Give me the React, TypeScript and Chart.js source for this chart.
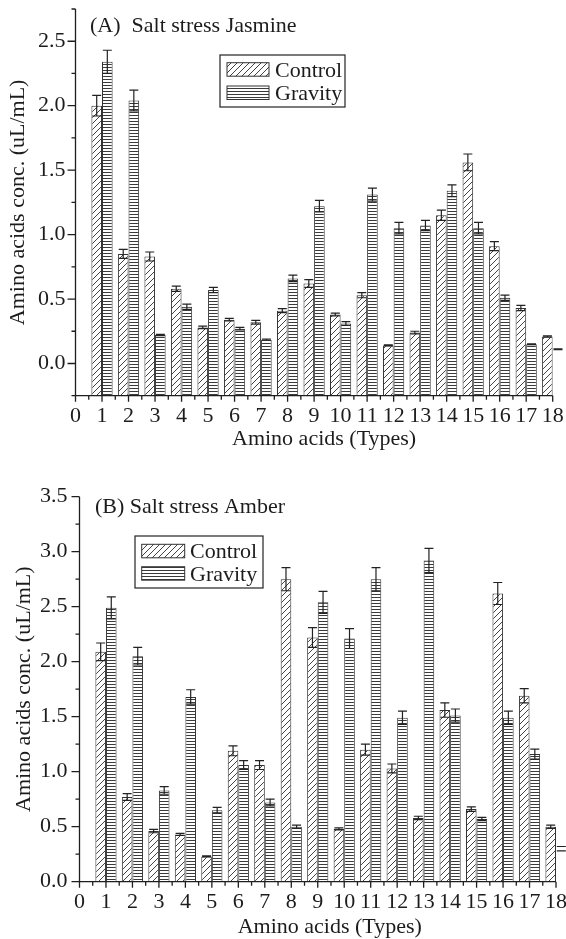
import React, { useEffect, useRef } from 'react';
import { Chart, registerables } from 'chart.js';

Chart.register(...registerables);

const FONT = "'Liberation Serif', 'Times New Roman', serif";
const INK = '#1c1c1c';

// ---- data ----
const aminoTypes = [1, 2, 3, 4, 5, 6, 7, 8, 9, 10, 11, 12, 13, 14, 15, 16, 17, 18];

const jasmineControl = [2.0, 0.85, 0.83, 0.58, 0.28, 0.34, 0.32, 0.41, 0.62, 0.38, 0.53, 0.14, 0.24, 1.15, 1.56, 0.91, 0.43, 0.21];
const jasmineControlErr = [0.08, 0.035, 0.035, 0.02, 0.01, 0.01, 0.015, 0.015, 0.03, 0.01, 0.02, 0.004, 0.01, 0.04, 0.065, 0.035, 0.02, 0.005];
const jasmineGravity = [2.34, 2.04, 0.22, 0.44, 0.57, 0.27, 0.185, 0.66, 1.22, 0.31, 1.31, 1.05, 1.07, 1.34, 1.05, 0.51, 0.15, 0.11];
const jasmineGravityErr = [0.09, 0.08, 0.005, 0.02, 0.02, 0.01, 0.005, 0.025, 0.045, 0.015, 0.05, 0.045, 0.04, 0.045, 0.045, 0.02, 0.003, 0.003];

const amberControl = [2.09, 0.77, 0.46, 0.43, 0.23, 1.19, 1.06, 2.75, 2.22, 0.48, 1.2, 1.03, 0.58, 1.56, 0.66, 2.62, 1.69, 0.5];
const amberControlErr = [0.08, 0.03, 0.015, 0.01, 0.005, 0.045, 0.04, 0.105, 0.09, 0.01, 0.05, 0.04, 0.015, 0.065, 0.02, 0.1, 0.065, 0.015];
const amberGravity = [2.49, 2.05, 0.83, 1.68, 0.65, 1.06, 0.72, 0.5, 2.54, 2.21, 2.75, 1.49, 2.92, 1.51, 0.57, 1.49, 1.16, 0.3];
const amberGravityErr = [0.1, 0.08, 0.035, 0.065, 0.025, 0.04, 0.03, 0.015, 0.1, 0.09, 0.105, 0.06, 0.11, 0.06, 0.015, 0.06, 0.045, 0.02];

const seriesLabels = ['Control', 'Gravity'];
const xAxisTitle = 'Amino acids (Types)';
const yAxisTitle = 'Amino acids conc. (uL/mL)';

function isMultiple(v: number, step: number) {
  return Math.abs(v / step - Math.round(v / step)) < 1e-6;
}

function makePatterns() {
  const d = document.createElement('canvas');
  d.width = 6;
  d.height = 6;
  const g = d.getContext('2d')!;
  g.fillStyle = '#ffffff';
  g.fillRect(0, 0, 6, 6);
  g.strokeStyle = '#2e2e2e';
  g.lineWidth = 0.9;
  g.beginPath();
  g.moveTo(0, 6);
  g.lineTo(6, 0);
  g.moveTo(-1, 1);
  g.lineTo(1, -1);
  g.moveTo(5, 7);
  g.lineTo(7, 5);
  g.stroke();

  const h = document.createElement('canvas');
  h.width = 4;
  h.height = 3;
  const k = h.getContext('2d')!;
  k.fillStyle = '#ffffff';
  k.fillRect(0, 0, 4, 3);
  k.fillStyle = '#3a3a3a';
  k.fillRect(0, 1, 4, 1);

  const ctx = document.createElement('canvas').getContext('2d')!;
  return {
    diag: ctx.createPattern(d, 'repeat')!,
    horiz: ctx.createPattern(h, 'repeat')!,
  };
}

const decorPlugin = {
  id: 'panelDecor',
  afterDatasetsDraw(chart: any, _args: any, opts: any) {
    const { ctx, chartArea: a, scales } = chart;
    const y = scales.y;
    ctx.save();
    ctx.strokeStyle = '#222';
    ctx.lineWidth = 1.2;
    chart.data.datasets.forEach((ds: any, di: number) => {
      const meta = chart.getDatasetMeta(di);
      meta.data.forEach((bar: any, i: number) => {
        const v = ds.data[i].y;
        const e = ds.errors[i];
        const cx = bar.x;
        const yt = y.getPixelForValue(v + e);
        const yb = y.getPixelForValue(v - e);
        const inside = cx < a.right;
        ctx.beginPath();
        if (inside) {
          ctx.moveTo(cx, yt);
          ctx.lineTo(cx, yb);
        }
        ctx.moveTo(cx - 4.5, yt);
        ctx.lineTo(cx + 4.5, yt);
        ctx.moveTo(cx - 4.5, yb);
        ctx.lineTo(cx + 4.5, yb);
        ctx.stroke();
      });
    });
    ctx.restore();
  },
  afterDraw(chart: any, _args: any, opts: any) {
    const { ctx, chartArea: a, scales } = chart;
    const x = scales.x;
    const y = scales.y;
    ctx.save();
    ctx.strokeStyle = '#1e1e1e';
    ctx.lineWidth = 1.3;
    ctx.beginPath();
    ctx.moveTo(a.left, a.top);
    ctx.lineTo(a.left, a.bottom);
    ctx.lineTo(a.right, a.bottom);
    y.ticks.forEach((t: any) => {
      const py = y.getPixelForValue(t.value);
      const len = isMultiple(t.value, 0.5) ? 8 : 4;
      ctx.moveTo(a.left, py);
      ctx.lineTo(a.left - len, py);
    });
    x.ticks.forEach((t: any) => {
      const px = x.getPixelForValue(t.value);
      const len = isMultiple(t.value, 1) ? 6 : 4;
      ctx.moveTo(px, a.bottom);
      ctx.lineTo(px, a.bottom + len);
    });
    ctx.stroke();

    ctx.fillStyle = INK;
    ctx.font = `22px ${FONT}`;

    // x axis title
    ctx.textAlign = 'center';
    ctx.textBaseline = 'middle';
    ctx.fillText(xAxisTitle, (a.left + a.right) / 2 + opts.xTitleShift, a.bottom + opts.xTitleDy);

    // panel title
    ctx.textBaseline = 'alphabetic';
    ctx.textAlign = 'left';
    ctx.fillText(opts.title, opts.titleX, opts.titleY);

    // legend
    const L = opts.legend;
    ctx.lineWidth = 1.2;
    ctx.strokeStyle = '#222';
    ctx.strokeRect(L.x, L.y, L.w, L.h);
    chart.data.datasets.forEach((ds: any, i: number) => {
      const top = L.rows[i];
      ctx.fillStyle = ds.backgroundColor;
      ctx.fillRect(L.swX, top, L.swW, L.swH);
      ctx.lineWidth = 1;
      ctx.strokeStyle = '#333';
      ctx.strokeRect(L.swX, top, L.swW, L.swH);
      ctx.fillStyle = INK;
      ctx.fillText(ds.label, L.textX, top + L.swH + 0.5);
    });
    ctx.restore();
  },
};

function buildChart(canvas: HTMLCanvasElement, p: any) {
  const pats = makePatterns();
  return new Chart(canvas, {
    type: 'bar',
    data: {
      datasets: [
        {
          label: seriesLabels[0],
          data: aminoTypes.map((t, i) => ({ x: t, y: p.control[i] })),
          errors: p.controlErr,
          backgroundColor: pats.diag,
          borderColor: '#333',
          borderWidth: 1,
          base: p.yMin,
        } as any,
        {
          label: seriesLabels[1],
          data: aminoTypes.map((t, i) => ({ x: t, y: p.gravity[i] })),
          errors: p.gravityErr,
          backgroundColor: pats.horiz,
          borderColor: '#333',
          borderWidth: 1,
          base: p.yMin,
        } as any,
      ],
    },
    options: {
      animation: false,
      responsive: false,
      devicePixelRatio: 1,
      events: [],
      layout: { autoPadding: false, padding: { left: 0, top: p.top, right: p.right, bottom: 0 } },
      datasets: { bar: { categoryPercentage: 1.6, barPercentage: 1 } },
      plugins: {
        legend: { display: false },
        tooltip: { enabled: false },
        panelDecor: {
          title: p.title,
          titleX: p.titleX,
          titleY: p.titleY,
          legend: p.legend,
          xTitleShift: p.xTitleShift,
          xTitleDy: p.xTitleDy,
        },
      } as any,
      scales: {
        x: {
          type: 'linear',
          min: 0,
          max: 18,
          offset: false,
          grid: { display: false, drawTicks: false },
          border: { display: false },
          ticks: {
            stepSize: 0.5,
            autoSkip: false,
            maxRotation: 0,
            minRotation: 0,
            padding: p.xTickPad,
            color: INK,
            font: { family: FONT, size: 22 },
            callback: (v: any) => (isMultiple(Number(v), 1) ? String(Math.round(Number(v))) : ''),
          },
          title: { display: false },
          afterFit: (s: any) => {
            s.height = p.xAxisH;
            s.paddingLeft = 0;
            s.paddingRight = 0;
          },
        },
        y: {
          type: 'linear',
          min: p.yMin,
          max: p.yMax,
          grid: { display: false, drawTicks: false },
          border: { display: false },
          ticks: {
            stepSize: 0.25,
            autoSkip: false,
            padding: p.yTickPad,
            color: INK,
            font: { family: FONT, size: 22 },
            callback: (v: any) => {
              const n = Number(v);
              return isMultiple(n, 0.5) && n > -1e-9 ? n.toFixed(1) : '';
            },
          },
          title: {
            display: true,
            text: yAxisTitle,
            color: INK,
            font: { family: FONT, size: 22, lineHeight: 1 },
            padding: { top: p.yTitlePad, bottom: 0 },
          },
          afterFit: (s: any) => {
            s.width = p.yAxisW;
            s.paddingTop = 0;
            s.paddingBottom = 0;
          },
        },
      },
    } as any,
    plugins: [decorPlugin],
  });
}

const panelA = {
  control: jasmineControl,
  controlErr: jasmineControlErr,
  gravity: jasmineGravity,
  gravityErr: jasmineGravityErr,
  yMin: -0.25,
  yMax: 2.75,
  top: 9,
  right: 13.3,
  yAxisW: 75.5,
  xAxisH: 74.3,
  xTickPad: 7,
  xTitleShift: 10,
  xTitleDy: 44,
  yTitlePad: 7.5,
  yTickPad: 10,
  title: '(A)  Salt stress Jasmine',
  titleX: 90,
  titleY: 31.7,
  legend: { x: 220, y: 55, w: 125, h: 52, swX: 227, swW: 42, swH: 13.5, rows: [62.7, 86], textX: 275 },
};

const panelB = {
  control: amberControl,
  controlErr: amberControlErr,
  gravity: amberGravity,
  gravityErr: amberGravityErr,
  yMin: 0,
  yMax: 3.5,
  top: 26.7,
  right: 10,
  yAxisW: 79.5,
  xAxisH: 57.3,
  xTickPad: 7,
  xTitleShift: 12,
  xTitleDy: 46,
  yTitlePad: 13,
  yTickPad: 12,
  title: '(B) Salt stress Amber',
  titleX: 95,
  titleY: 42.7,
  legend: { x: 135, y: 66, w: 128, h: 52, swX: 141.7, swW: 43, swH: 13.5, rows: [74.3, 96.7], textX: 190 },
};

function Panel({ params, height, top }: { params: any; height: number; top: number }) {
  const ref = useRef<HTMLCanvasElement>(null);
  useEffect(() => {
    if (!ref.current) return;
    const chart = buildChart(ref.current, params);
    return () => chart.destroy();
  }, [params]);
  return (
    <div style={{ position: 'absolute', left: 0, top, width: 566, height }}>
      <canvas ref={ref} width={566} height={height} style={{ width: 566, height, display: 'block' }} />
    </div>
  );
}

export default function App() {
  return (
    <div style={{ position: 'absolute', left: 0, top: 0, width: 566, height: 939, background: '#ffffff', overflow: 'hidden' }}>
      <Panel params={panelA} height={470} top={0} />
      <Panel params={panelB} height={469} top={470} />
    </div>
  );
}
